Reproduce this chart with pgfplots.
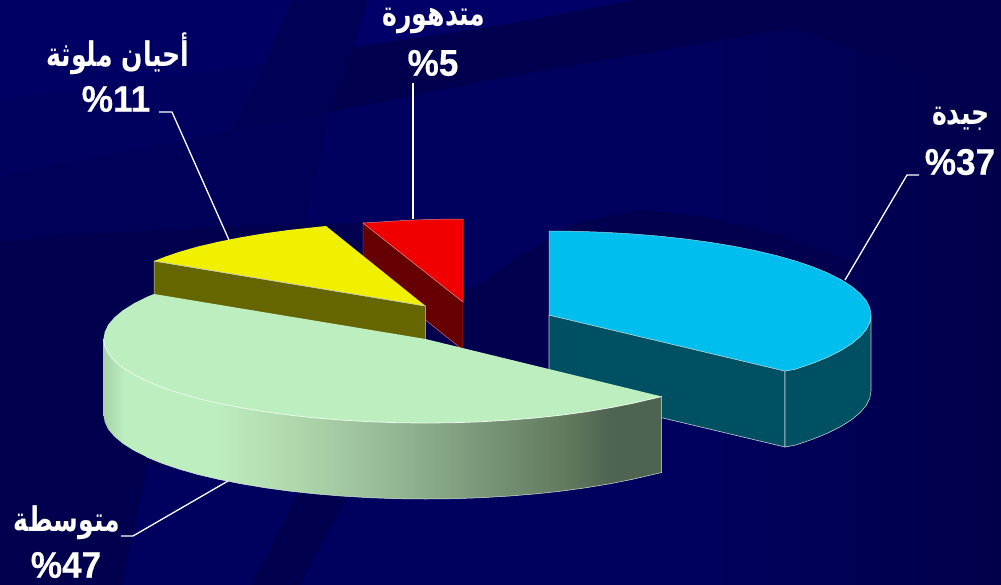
\documentclass[border=0pt]{standalone}
\usepackage{pgfplots}
\pgfplotsset{compat=1.18}
\usepackage{fontspec}
\setmainfont{Liberation Sans}
\newfontfamily\arabicfont[Script=Arabic]{DejaVu Sans}
\newfontfamily\numfont[FakeBold=0.4]{Liberation Sans Bold}
\TeXXeTstate=1
\definecolor{bgbase}{HTML}{00005E}
\definecolor{bgdark}{HTML}{00004E}
\definecolor{bgdarker}{HTML}{00004A}
\definecolor{bglight}{HTML}{000068}
\definecolor{bgband}{HTML}{00005F}
\definecolor{bgtop}{HTML}{000064}
\definecolor{bgleft}{HTML}{000059}
\definecolor{edge}{HTML}{C4CCCC}
\definecolor{gl}{HTML}{BDEEC0}
\definecolor{g0}{HTML}{A6D2A8}
\definecolor{g1}{HTML}{B9E6B9}
\definecolor{g2}{HTML}{AFD9AD}
\definecolor{g25}{HTML}{9CC09C}
\definecolor{g3}{HTML}{7D9C7D}
\definecolor{g35}{HTML}{62795F}
\definecolor{g4}{HTML}{4F6450}
\pgfdeclarehorizontalshading{greenside}{100bp}{color(0bp)=(g0); color(25bp)=(g0); color(26.9bp)=(gl); color(35bp)=(gl); color(37.2bp)=(g1); color(41.7bp)=(g2); color(48.6bp)=(g25); color(57.6bp)=(g3); color(66.5bp)=(g35); color(70.4bp)=(g4); color(100bp)=(g4)}
\pgfdeclarehorizontalshading{rightdark}{100bp}{color(0bp)=(bgbase); color(25bp)=(bgbase); color(75bp)=(bgdarker); color(100bp)=(bgdarker)}
\newcommand{\ar}[2][.74]{\scalebox{#1}[1]{\arabicfont\bfseries\fontsize{34}{37}\selectfont\beginR #2\endR}}
\newcommand{\pc}[1]{\scalebox{.95}[1]{\numfont\fontsize{37}{40}\selectfont #1}}
\begin{document}
\begin{tikzpicture}
\begin{axis}[hide axis,scale only axis,width=1001pt,height=584pt,xmin=0,xmax=1001,ymin=0,ymax=584,y dir=reverse,clip=true]
% background
\addplot[fill=bgbase,draw=none] coordinates {(-5,-5)(1006,-5)(1006,590)(-5,590)} -- cycle;
\addplot[shading=rightdark,draw=none] coordinates {(700,-5)(1006,-5)(1006,590)(700,590)} -- cycle;
\addplot[fill=bgtop,draw=none] coordinates {(-5,-5)(294,-5)(265,63)(0,100)(-5,100)} -- cycle;
\addplot[fill=bgband,draw=none] coordinates {(-5,100)(265,63)(233,130)(-5,177)} -- cycle;
\addplot[fill=bgleft,draw=none] coordinates {(-5,177)(233,130)(330,112)(300,250)(-5,250)} -- cycle;
\addplot[fill=bgdark!60!bgbase,draw=none] coordinates {(294,-5)(370,-5)(354,47)(329,112)(233,130)(265,63)} -- cycle;
\addplot[fill=bgdark,draw=none] coordinates {(370,-5)(1006,-5)(1006,115)(894,63)(792,28)(500,78)(329,112)(354,47)(500,25)(660,-5)} -- cycle;
\addplot[fill=bglight,draw=none] coordinates {(370,-5)(660,-5)(500,25)(354,47)} -- cycle;
\addplot[fill=bgdark,draw=none] coordinates {(-5,242)(96,233)(223,227)(363,223)(472,290)(511,261)(575,223)(639,210)(702,216)(780,235)(849,261)(860,340)(700,410)(400,440)(230,470)(147,465)(121,590)(-5,590)} -- cycle;
\addplot[fill=bgdark,draw=none] coordinates {(300,490)(351,490)(297,590)(249,590)} -- cycle;
% blue
\addplot[fill={rgb,255:red,0;green,80;blue,100},draw=edge,line width=0.6pt] coordinates {(549,315)(785,371)(785,447)(549,391)} -- cycle;
\addplot[fill={rgb,255:red,0;green,80;blue,100},draw=edge,line width=0.6pt] coordinates {(785,371)(795.7,369)(812.8,363.2)(827.9,357)(840.8,350.5)(851.6,343.7)(860,336.7)(866.1,329.6)(869.8,322.3)(871,315)(871,391)(869.8,398.3)(866.1,405.6)(860,412.7)(851.6,419.7)(840.8,426.5)(827.9,433)(812.8,439.2)(795.7,445)(785,447)} -- cycle;
\addplot[fill={rgb,255:red,0;green,191;blue,239},draw=edge!80!cyan,line width=0.5pt] coordinates {(549,231)(577,231.3)(604.9,232.3)(632.2,233.9)(659.1,236.1)(685,238.9)(710,242.3)(733.7,246.2)(756,250.7)(776.7,255.6)(795.7,261)(812.8,266.8)(827.9,273)(840.8,279.5)(851.6,286.3)(860,293.3)(866.1,300.4)(869.8,307.7)(871,315)(869.8,322.3)(866.1,329.6)(860,336.7)(851.6,343.7)(840.8,350.5)(827.9,357)(812.8,363.2)(795.7,369)(785,371)(549,315)} -- cycle;
% red
\addplot[fill={rgb,255:red,102;green,0;blue,0},draw=edge!60!red,line width=0.4pt] coordinates {(363,223)(463,302)(463,350)(363,270)} -- cycle;
\addplot[fill={rgb,255:red,240;green,0;blue,0},draw=edge!60!red,line width=0.5pt] coordinates {(363,223)(407,220.3)(435,219.3)(463,219)(463,302)} -- cycle;
% yellow
\addplot[fill={rgb,255:red,102;green,102;blue,0},draw=edge,line width=0.5pt] coordinates {(154,261)(425.5,306)(425.5,342)(154,297)} -- cycle;
\addplot[fill={rgb,255:red,240;green,240;blue,0},draw=none] coordinates {(154,261)(165.7,256.5)(178.8,252)(197.5,246.6)(218.5,241.7)(240.8,237.3)(264.5,233.3)(289.5,229.9)(315.4,227.1)(326,226)(425.5,306)} -- cycle;
\addplot[color=edge,line width=0.5pt] coordinates {(154,261)(425.5,306)};
% green
\addplot[shading=greenside,draw=none] coordinates {(103.5,339)(103.5,415)(104.8,422.3)(108.4,429.6)(114.5,436.7)(122.9,443.7)(133.7,450.5)(146.6,457)(161.7,463.2)(178.8,469)(197.5,474.4)(218.5,479.3)(240.8,483.7)(264.5,487.7)(289.5,491.1)(315.4,493.9)(342.5,496.1)(369.6,497.7)(397.5,498.7)(425.5,499)(453.5,498.7)(481.4,497.7)(508.5,496.1)(535.6,493.9)(561.5,491.1)(586.5,487.7)(610.2,483.7)(632.5,479.3)(661.7,472.5)(661.7,396.5)} -- cycle;
\addplot[fill=gl,draw=none] coordinates {(154,294)(146.6,297)(133.7,303.5)(122.9,310.3)(114.5,317.3)(108.4,324.4)(104.8,331.7)(103.5,339)(104.8,346.3)(108.4,353.6)(114.5,360.7)(122.9,367.7)(133.7,374.5)(146.6,381)(161.7,387.2)(178.8,393)(197.5,398.4)(218.5,403.3)(240.8,407.7)(264.5,411.7)(289.5,415.1)(315.4,417.9)(342.5,420.1)(369.6,421.7)(397.5,422.7)(425.5,423)(453.5,422.7)(481.4,421.7)(508.5,420.1)(535.6,417.9)(561.5,415.1)(586.5,411.7)(610.2,407.7)(632.5,403.3)(661.7,396.5)(425.5,339)} -- cycle;
% green edges
\addplot[color={rgb,255:red,235;green,248;blue,235},line width=0.8pt] coordinates {(103.5,339)(104.8,346.3)(108.4,353.6)(114.5,360.7)(122.9,367.7)(133.7,374.5)(146.6,381)(161.7,387.2)(178.8,393)(197.5,398.4)(218.5,403.3)(240.8,407.7)(264.5,411.7)(289.5,415.1)(315.4,417.9)(342.5,420.1)(369.6,421.7)(397.5,422.7)(425.5,423)(453.5,422.7)(481.4,421.7)(508.5,420.1)(535.6,417.9)(561.5,415.1)(586.5,411.7)(610.2,407.7)(632.5,403.3)(661.7,396.5)};
\addplot[color={rgb,255:red,215;green,225;blue,215},line width=0.5pt] coordinates {(146.6,457)(161.7,463.2)(178.8,469)(197.5,474.4)(218.5,479.3)(240.8,483.7)(264.5,487.7)(289.5,491.1)(315.4,493.9)(342.5,496.1)(369.6,497.7)(397.5,498.7)(425.5,499)(453.5,498.7)(481.4,497.7)(508.5,496.1)(535.6,493.9)(561.5,491.1)(586.5,487.7)(610.2,483.7)(632.5,479.3)(661.7,472.5)(661.7,396.5)};
% leaders
\addplot[white,line width=1.3pt] coordinates {(159,112)(172,112)(229,240)};
\addplot[white,line width=1.3pt] coordinates {(413,83)(413,219)};
\addplot[white,line width=1.3pt] coordinates {(919,175)(907,175)(845,280)};
\addplot[white,line width=1.3pt] coordinates {(121,536)(133,536)(228,481)};
% labels
\node[white,inner sep=0pt] at (axis cs:434,21) {\ar{متدهورة}};
\node[white,inner sep=0pt] at (axis cs:433,63) {\pc{\%5}};
\node[white,inner sep=0pt] at (axis cs:118,54) {\ar{أحيان ملوثة}};
\node[white,inner sep=0pt] at (axis cs:116,99) {\pc{\%11}};
\node[white,inner sep=0pt] at (axis cs:961,119) {\ar{جيدة}};
\node[white,inner sep=0pt] at (axis cs:960,162) {\pc{\%37}};
\node[white,inner sep=0pt] at (axis cs:67,523) {\ar{متوسطة}};
\node[white,inner sep=0pt] at (axis cs:66,565) {\pc{\%47}};
\end{axis}
\end{tikzpicture}
\end{document}
